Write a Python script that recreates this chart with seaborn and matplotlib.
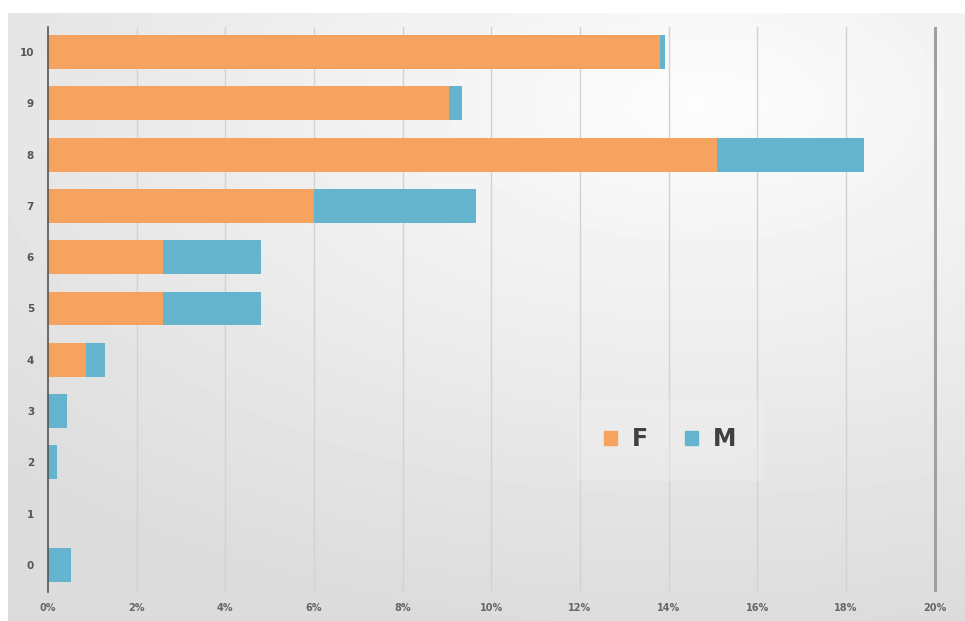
import numpy as np
import pandas as pd
import matplotlib.pyplot as plt
import seaborn as sns
from matplotlib.patches import Patch

# 数据
categories = ['10', '9', '8', '7', '6', '5', '4', '3', '2', '1', '0']
female = [13.8, 9.05, 15.1, 6.0, 2.6, 2.6, 0.85, 0.0, 0.0, 0.0, 0.0]
male = [0.12, 0.3, 3.3, 3.65, 2.2, 2.2, 0.43, 0.42, 0.2, 0.0, 0.52]
x_ticks = [0, 2, 4, 6, 8, 10, 12, 14, 16, 18, 20]

df = pd.DataFrame({'cat': categories, 'F': female, 'M': male})
df['total'] = df['F'] + df['M']

sns.set_style('white')
plt.rcParams['font.family'] = ['DejaVu Sans']

fig = plt.figure(figsize=(9.65, 6.21), dpi=100)

# 背景渐变
bg = fig.add_axes([8 / 965, 0, 957 / 965, 608 / 621], zorder=0)
yy, xx = np.mgrid[0:1:200j, 0:1:300j]
dist = np.sqrt(((xx - 0.72) / 1.1) ** 2 + ((yy - 0.85) / 0.95) ** 2)
grad = np.clip(0.99 - dist * 0.14, 0.86, 0.99)
bg.imshow(grad, cmap='gray', vmin=0, vmax=1, aspect='auto', origin='lower',
          extent=[0, 1, 0, 1])
bg.axis('off')

ax = fig.add_axes([48 / 965, 29 / 621, 0.921, 565 / 621], zorder=1)
ax.patch.set_alpha(0)

orange = '#f6a35f'
blue = '#63b4cc'
sns.barplot(data=df, y='cat', x='total', color=blue, orient='h', width=0.66,
            order=categories, ax=ax, saturation=1, zorder=3, linewidth=0)
sns.barplot(data=df, y='cat', x='F', color=orange, orient='h', width=0.66,
            order=categories, ax=ax, saturation=1, zorder=4, linewidth=0)

ax.set_xlim(0, 20.05)
ax.set_ylim(10.53, -0.49)
ax.set_xticks(x_ticks)
ax.set_xticklabels([f'{t}%' for t in x_ticks], fontsize=7, fontweight='bold',
                   color='#666666')
ax.tick_params(axis='y', labelsize=7.5, labelcolor='#555555', length=0, pad=10)
for lbl in ax.get_yticklabels():
    lbl.set_fontweight('bold')
ax.tick_params(axis='x', length=0, pad=8)
ax.set_xlabel('')
ax.set_ylabel('')

for t in x_ticks[1:]:
    ax.axvline(t, color='#a0a0a0' if t == 20 else '#d2d2d2',
               lw=2.2 if t == 20 else 1, zorder=1)

for s in ['top', 'right', 'bottom']:
    ax.spines[s].set_visible(False)
ax.spines['left'].set_color('#555555')
ax.spines['left'].set_linewidth(1.2)
ax.spines['left'].set_zorder(5)

handles = [Patch(color=orange, label='F'), Patch(color=blue, label='M')]
leg = ax.legend(handles=handles, loc='center', bbox_to_anchor=(0.7, 0.27),
                ncol=2, frameon=True, fontsize=17, handlelength=0.55,
                handleheight=0.55, columnspacing=1.6, handletextpad=0.6,
                borderpad=1.2)
leg.get_frame().set_facecolor('#f0f0f0')
leg.get_frame().set_edgecolor('#ececec')
leg.get_frame().set_alpha(0.4)
for txt in leg.get_texts():
    txt.set_fontweight('bold')
    txt.set_color('#404040')

fig.savefig('out.png', dpi=100)
